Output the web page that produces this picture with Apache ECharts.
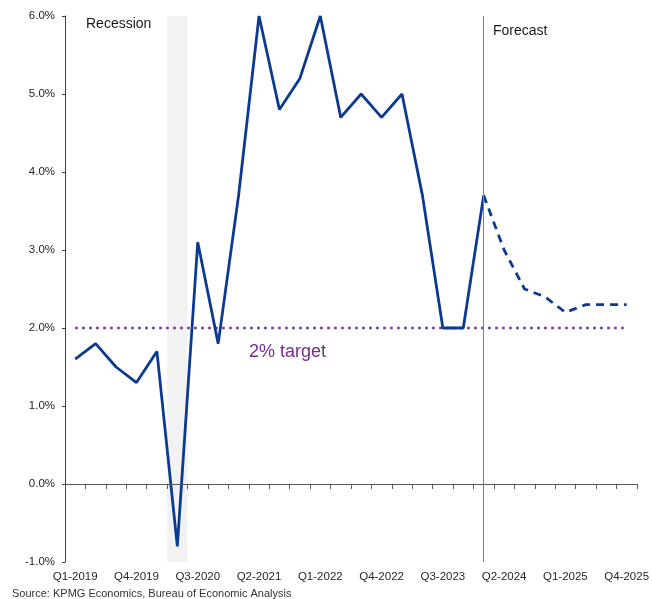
<!DOCTYPE html>
<html>
<head>
<meta charset="utf-8">
<script src="https://cdn.jsdelivr.net/npm/echarts@6/dist/echarts.min.js"></script>
<style>
  html, body { margin: 0; padding: 0; background: #fff; }
  #chart { width: 652px; height: 599px; }
</style>
</head>
<body>
<div id="chart"></div>
<script>
const quarters = [
  "Q1-2019", "Q2-2019", "Q3-2019", "Q4-2019",
  "Q1-2020", "Q2-2020", "Q3-2020", "Q4-2020",
  "Q1-2021", "Q2-2021", "Q3-2021", "Q4-2021",
  "Q1-2022", "Q2-2022", "Q3-2022", "Q4-2022",
  "Q1-2023", "Q2-2023", "Q3-2023", "Q4-2023",
  "Q1-2024", "Q2-2024", "Q3-2024", "Q4-2024",
  "Q1-2025", "Q2-2025", "Q3-2025", "Q4-2025",
];

// actual inflation, Q1-2019 .. Q1-2024
const actual = [1.6, 1.8, 1.5, 1.3, 1.7, -0.8, 3.1, 1.8, 3.7, 6.0, 4.8, 5.2, 6.0, 4.7, 5.0, 4.7, 5.0, 3.7, 2.0, 2.0, 3.7];
// forecast, Q1-2024 .. Q4-2025
const forecast = [3.7, 3.0, 2.5, 2.4, 2.2, 2.3, 2.3, 2.3];

const targetRate = 2.0;
const recessionQuarter = "Q2-2020";
const forecastStart = "Q1-2024";
const yTicks = { min: -1, max: 6, interval: 1 };

const blue = "#0c3a91";
const purple = "#7a2a8c";
const font = "Liberation Sans, Arial, sans-serif";

const actualData = quarters.map((q, i) => (i < actual.length ? actual[i] : null));
const forecastData = quarters.map((q, i) => {
  const j = i - (actual.length - 1);
  return j >= 0 && j < forecast.length ? forecast[j] : null;
});
// recession band: full-height bars on the recession quarter
const bandUp = quarters.map(q => (q === recessionQuarter ? yTicks.max : null));
const bandDown = quarters.map(q => (q === recessionQuarter ? yTicks.min : null));

const chart = echarts.init(document.getElementById("chart"));

chart.setOption({
  animation: false,
  textStyle: { fontFamily: font },
  grid: { left: 65, right: 13, top: 16, bottom: 37 },
  xAxis: [
    {
      type: "category",
      data: quarters,
      boundaryGap: true,
      axisLine: { onZero: true, lineStyle: { color: "#595959", width: 1 } },
      axisTick: { show: true, interval: 0, length: 5, lineStyle: { color: "#595959" } },
      axisLabel: { show: false },
      splitLine: { show: false },
      z: 4,
    },
    {
      type: "category",
      data: quarters,
      position: "bottom",
      boundaryGap: true,
      axisLine: { show: false },
      axisTick: { show: false },
      axisLabel: { interval: 2, color: "#262626", fontSize: 11.5, margin: 9 },
      splitLine: { show: false },
    },
  ],
  yAxis: {
    type: "value",
    min: yTicks.min,
    max: yTicks.max,
    interval: yTicks.interval,
    axisLine: { show: true, lineStyle: { color: "#404040", width: 1 } },
    axisTick: { show: true, length: 3, lineStyle: { color: "#404040" } },
    axisLabel: { color: "#262626", fontSize: 11.5, margin: 10, formatter: v => v.toFixed(1) + "%" },
    splitLine: { show: false },
  },
  series: [
    {
      name: "recessionUp",
      type: "bar",
      data: bandUp,
      barWidth: "100%",
      barGap: "-100%",
      z: 0,
      silent: true,
      itemStyle: { color: "#f2f2f2" },
    },
    {
      name: "recessionDown",
      type: "bar",
      data: bandDown,
      barWidth: "100%",
      barGap: "-100%",
      z: 0,
      silent: true,
      itemStyle: { color: "#f2f2f2" },
      markLine: {
        silent: true,
        symbol: "none",
        label: { show: false },
        lineStyle: { color: "#7f7f7f", width: 1, type: "solid" },
        data: [{ xAxis: forecastStart }],
      },
    },
    {
      name: "target",
      type: "line",
      data: quarters.map(() => targetRate),
      z: 2,
      symbol: "none",
      silent: true,
      lineStyle: { color: purple, width: 2.5, type: [2.5, 4.5] },
    },
    {
      name: "Actual",
      type: "line",
      data: actualData,
      z: 3,
      symbol: "none",
      lineStyle: { color: blue, width: 2.8 },
    },
    {
      name: "Forecast",
      type: "line",
      data: forecastData,
      z: 3,
      symbol: "none",
      lineStyle: { color: blue, width: 2.8, type: [8, 6] },
    },
  ],
  graphic: [
    {
      type: "text",
      left: 86, top: 17,
      style: { text: "Recession", fontSize: 14, fill: "#1a1a1a", fontFamily: font },
    },
    {
      type: "text",
      left: 493, top: 24,
      style: { text: "Forecast", fontSize: 14, fill: "#1a1a1a", fontFamily: font },
    },
    {
      type: "text",
      left: 249, top: 343,
      style: { text: "2% target", fontSize: 18, fill: purple, fontFamily: font },
    },
    {
      type: "text",
      left: 12, top: 588,
      style: { text: "Source: KPMG Economics, Bureau of Economic Analysis", fontSize: 11, fill: "#333", fontFamily: font },
    },
  ],
});
</script>
</body>
</html>
